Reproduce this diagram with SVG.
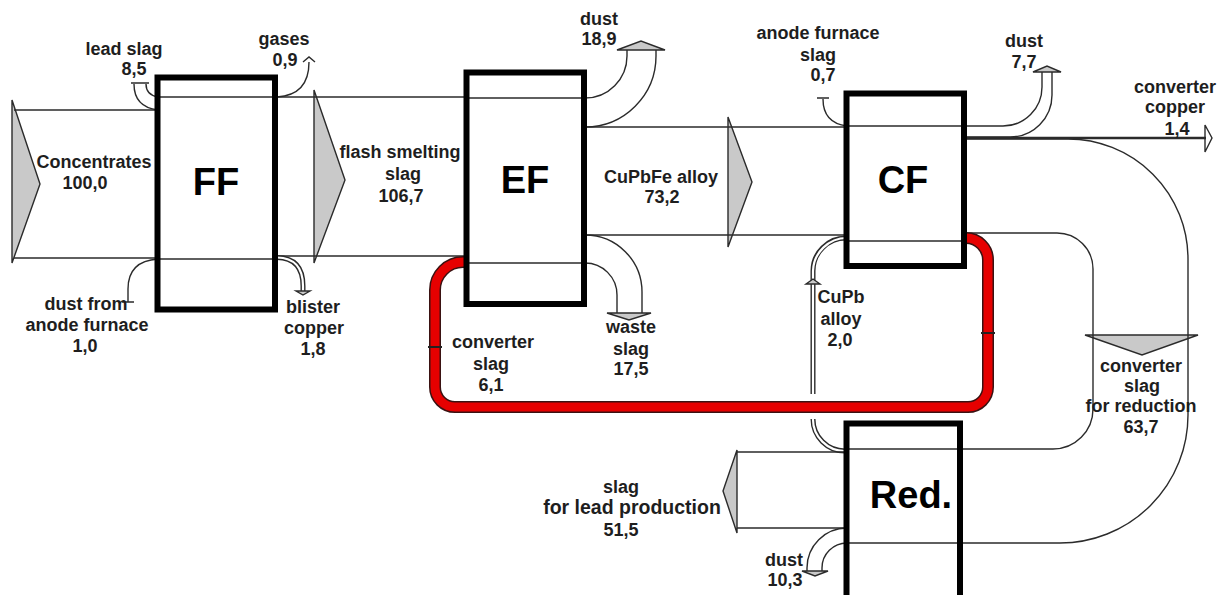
<svg xmlns="http://www.w3.org/2000/svg" width="1220" height="595" viewBox="0 0 1220 595">
<defs>
<style>
.ln{fill:none;stroke:#2b2b2b;stroke-width:1.4}
.thk{fill:none;stroke:#2b2b2b;stroke-width:2.6}
.dbo{fill:none;stroke:#2b2b2b;stroke-width:5}
.dbi{fill:none;stroke:#fff;stroke-width:2.2}
.tri{fill:#c9c9c9;stroke:#2b2b2b;stroke-width:1.4;stroke-linejoin:miter}
.box{fill:none;stroke:#000;stroke-width:6}
.t{font-family:"Liberation Sans",Arial,Helvetica,sans-serif;font-weight:bold;font-size:18px;fill:#1e1e1e;text-anchor:middle}
.big{font-size:38px;fill:#000}
.redo{fill:none;stroke:#3a1212;stroke-width:12}
.redi{fill:none;stroke:#e60000;stroke-width:9}
.mk{fill:none;stroke:#222;stroke-width:2}
</style>
</defs>
<rect width="1220" height="595" fill="#fff"/>
<g id="connectors">
  <!-- Concentrates -->
  <path class="tri" d="M12 100 L40 184 L12 263 Z"/>
  <path class="ln" d="M14 110 H158 M14 258 H158"/>
  <!-- lead slag -->
  <path class="ln" d="M158 110 Q134 107 134 84 M158 97 Q146 95 146 84 M131 83 H149"/>
  <!-- dust from anode furnace -->
  <path class="ln" d="M158 259 Q128 261 128 289 V302 M122 302 H134"/>
  <!-- FF inner -->
  <path class="ln" d="M158 97 H276 M158 259 H276"/>
  <!-- gases -->
  <path class="ln" d="M277 97 Q309 95 309 62 M303 62 L309 57 L315 62"/>
  <!-- flash smelting slag -->
  <path class="tri" d="M314 90 L345 180 L314 263 Z"/>
  <path class="ln" d="M276 97 H466 M276 256 H466"/>
  <!-- blister copper -->
  <path class="dbo" d="M277 257.5 Q303 258 303 286 V291"/>
  <path class="dbi" d="M277 257.5 Q303 258 303 286 V292"/>
  <path class="tri" d="M296 291 H310 L303 295 Z"/>
  <!-- EF inner -->
  <path class="ln" d="M466 98 H585 M466 263 H585"/>
  <!-- dust 18,9 -->
  <path class="ln" d="M585 98 A42 42 0 0 0 627 56 V50 M585 127 A71 71 0 0 0 656 56 V50"/>
  <path class="tri" d="M617 50 L641 41 L665 50 Z"/>
  <!-- CuPbFe alloy -->
  <path class="tri" d="M728 117 L752 182 L728 247 Z"/>
  <path class="ln" d="M585 127 H847 M585 235 H847"/>
  <!-- waste slag -->
  <path class="ln" d="M585 235 A57 57 0 0 1 642 292 V313 M585 263 A32 32 0 0 1 617 295 V313"/>
  <path class="tri" d="M607 313 H651 L629 320 Z"/>
  <!-- anode furnace slag -->
  <path class="ln" d="M847 126 Q823 123 823 99 M817 98 H829"/>
  <!-- CF inner -->
  <path class="ln" d="M847 126 H964 M847 241 H964"/>
  <!-- CuPb alloy -->
  <path class="dbo" d="M846 238 A33 33 0 0 0 813 271 V394 M813 419 A32 32 0 0 0 845 451"/>
  <path class="dbi" d="M847 238 A34 34 0 0 0 813 271 V395 M813 418 A32 32 0 0 0 846 451"/>
  <path class="tri" d="M806 284 L813 279 L820 284 Z"/>
  <!-- dust 7,7 -->
  <path class="ln" d="M964 126 H1003 A39 39 0 0 0 1042 87 V72 M964 137 H1010 A42 42 0 0 0 1052 95 V72"/>
  <path class="tri" d="M1033 72 L1047 66 L1061 72 Z"/>
  <!-- converter copper -->
  <path class="thk" d="M964 138 H1206"/>
  <path class="ln" d="M1205 125 L1212 138 L1205 152 Z"/>
  <!-- converter slag for reduction -->
  <path class="tri" d="M1085 335 L1198 335 L1142 355 Z"/>
  <path class="ln" d="M964 139 H1068 A120 120 0 0 1 1188 259 V415 A128 128 0 0 1 1060 543 H960"/>
  <path class="ln" d="M964 233 H1057 A36 36 0 0 1 1093 269 V409 A40 40 0 0 1 1053 449 H960"/>
  <!-- Red. inner -->
  <path class="ln" d="M847 449 H960 M847 543 H960"/>
  <!-- slag for lead production -->
  <path class="tri" d="M737 450 L723 491 L737 533 Z"/>
  <path class="ln" d="M737 452 H847 M737 528 H847"/>
  <!-- dust 10,3 -->
  <path class="ln" d="M847 528 A40 40 0 0 0 807 568 V571 M847 543 A25 25 0 0 0 822 568 V571"/>
  <path class="tri" d="M802 571 H828 L815 576 Z"/>
  <!-- converter slag 6,1 (red loop) -->
  <path class="redo" d="M964 238 H966 A22 22 0 0 1 988 260 V387 A20 20 0 0 1 968 407 H455 A20 20 0 0 1 435 387 V290 A28 28 0 0 1 463 262 H467"/>
  <path class="redi" d="M964 238 H966 A22 22 0 0 1 988 260 V387 A20 20 0 0 1 968 407 H455 A20 20 0 0 1 435 387 V290 A28 28 0 0 1 463 262 H467"/>
  <path class="mk" d="M428 347 H442 M981 333 H995"/>
</g>
<g id="node-FF">
  <rect class="box" x="157.5" y="77.5" width="117.5" height="232"/>
  <text class="t big" x="216" y="195">FF</text>
</g>
<g id="node-EF">
  <rect class="box" x="466.5" y="72.5" width="117.5" height="231.5"/>
  <text class="t big" x="525" y="193">EF</text>
</g>
<g id="node-CF">
  <rect class="box" x="846.5" y="93.5" width="117.5" height="172.5"/>
  <text class="t big" x="903" y="193">CF</text>
</g>
<g id="node-Red">
  <rect class="box" x="846.5" y="423.5" width="113.5" height="200"/>
  <text class="t big" x="911" y="508">Red.</text>
</g>
<g id="flow-labels">
  <text class="t" x="124" y="55">lead slag</text>
  <text class="t" x="134" y="75">8,5</text>
  <text class="t" x="284" y="45">gases</text>
  <text class="t" x="285" y="66">0,9</text>
  <text class="t" x="94" y="168">Concentrates</text>
  <text class="t" x="85" y="189">100,0</text>
  <text class="t" x="86" y="310">dust from</text>
  <text class="t" x="87" y="331">anode furnace</text>
  <text class="t" x="85" y="352">1,0</text>
  <text class="t" x="313" y="313">blister</text>
  <text class="t" x="314" y="334">copper</text>
  <text class="t" x="313" y="355">1,8</text>
  <text class="t" x="400" y="158">flash smelting</text>
  <text class="t" x="403" y="180">slag</text>
  <text class="t" x="401" y="202">106,7</text>
  <text class="t" x="599" y="25">dust</text>
  <text class="t" x="599" y="45">18,9</text>
  <text class="t" x="661" y="183">CuPbFe alloy</text>
  <text class="t" x="662" y="203">73,2</text>
  <text class="t" x="818" y="39">anode furnace</text>
  <text class="t" x="818" y="61">slag</text>
  <text class="t" x="823" y="81">0,7</text>
  <text class="t" x="1024" y="47">dust</text>
  <text class="t" x="1024" y="68">7,7</text>
  <text class="t" x="1175" y="93">converter</text>
  <text class="t" x="1175" y="113">copper</text>
  <text class="t" x="1177" y="135">1,4</text>
  <text class="t" x="631" y="333">waste</text>
  <text class="t" x="631" y="355">slag</text>
  <text class="t" x="631" y="375">17,5</text>
  <text class="t" x="493" y="348">converter</text>
  <text class="t" x="491" y="370">slag</text>
  <text class="t" x="491" y="391">6,1</text>
  <text class="t" x="841" y="303">CuPb</text>
  <text class="t" x="841" y="325">alloy</text>
  <text class="t" x="840" y="346">2,0</text>
  <text class="t" x="1141" y="372">converter</text>
  <text class="t" x="1142" y="392">slag</text>
  <text class="t" x="1141" y="412">for reduction</text>
  <text class="t" x="1141" y="433">63,7</text>
  <text class="t" x="621" y="493">slag</text>
  <text class="t" x="632" y="514" style="font-size:19.5px">for lead production</text>
  <text class="t" x="621" y="536">51,5</text>
  <text class="t" x="784" y="566">dust</text>
  <text class="t" x="785" y="586">10,3</text>
</g>
</svg>
